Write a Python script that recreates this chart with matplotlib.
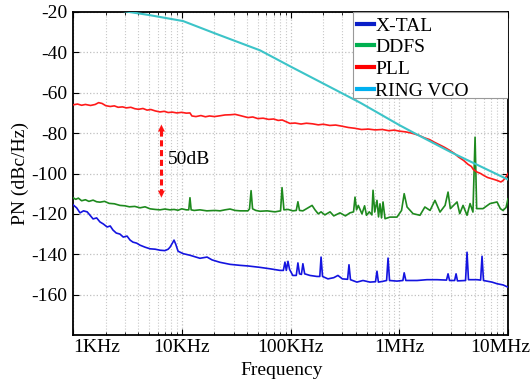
import matplotlib
matplotlib.use("Agg")
import matplotlib.pyplot as plt
from matplotlib.lines import Line2D
from matplotlib.patches import Rectangle
from matplotlib.ticker import FixedLocator, LogLocator, NullFormatter
import matplotlib.transforms as mtransforms

plt.rcParams['font.family'] = ['Liberation Serif', 'DejaVu Serif']
plt.rcParams['axes.unicode_minus'] = False

# ---------------- data ----------------
xtal_freq = [1.0e3, 1.08e3, 1.16e3, 1.25e3, 1.35e3, 1.45e3, 1.53e3, 1.65e3, 1.77e3, 1.9e3,
             2.06e3, 2.2e3, 2.33e3, 2.5e3, 2.7e3, 2.9e3, 3.14e3, 3.35e3, 3.56e3, 3.85e3,
             4.13e3, 4.6e3, 5.11e3, 5.7e3, 6.31e3, 7.0e3, 7.5e3, 7.8e3, 8.2e3, 8.49e3,
             8.8e3, 9.25e3, 1.03e4, 1.19e4, 1.47e4, 1.71e4, 1.9e4, 2.25e4, 2.78e4, 3.44e4,
             4.06e4, 5.25e4, 6.47e4, 8.0e4, 8.6e4, 8.89e4, 9.15e4, 9.48e4, 9.8e4, 1.05e5,
             1.13e5, 1.17e5, 1.21e5, 1.26e5, 1.30e5, 1.35e5, 1.51e5, 1.75e5, 1.86e5, 1.91e5,
             1.97e5, 2.21e5, 2.5e5, 2.73e5, 3.0e5, 3.35e5, 3.45e5, 3.56e5, 4.08e5, 4.64e5,
             5.38e5, 6.05e5, 6.24e5, 6.43e5, 7.1e5, 7.65e5, 7.89e5, 8.14e5, 9.53e5, 1.08e6,
             1.11e6, 1.15e6, 1.46e6, 1.80e6, 2.22e6, 2.72e6, 2.81e6, 2.9e6, 3.23e6, 3.33e6,
             3.43e6, 4.07e6, 4.20e6, 4.33e6, 5.19e6, 5.6e6, 5.77e6, 5.95e6, 7.13e6, 7.93e6,
             9.0e6, 1.0e7]
xtal_pn = [-115.5, -117.0, -119.5, -118.5, -119.0, -121.0, -122.5, -122.0, -124.0, -125.0,
           -126.5, -126.0, -128.0, -129.5, -130.0, -131.5, -131.0, -133.0, -134.0, -134.5,
           -135.5, -136.5, -137.3, -137.5, -138.0, -138.2, -137.5, -136.5, -134.5, -133.0,
           -135.0, -138.5, -139.7, -140.5, -142.0, -141.4, -142.8, -144.0, -145.0, -145.5,
           -145.8, -146.5, -147.2, -148.0, -148.0, -143.9, -148.0, -143.5, -147.5, -150.5,
           -150.5, -144.3, -149.7, -150.0, -144.7, -149.7, -150.5, -151.0, -151.0, -141.4,
           -151.0, -152.2, -151.6, -150.5, -152.2, -152.4, -145.2, -152.6, -153.8, -153.0,
           -153.8, -153.6, -148.4, -153.8, -153.4, -153.0, -141.9, -153.0, -153.3, -153.0,
           -149.2, -153.0, -153.0, -152.6, -152.6, -152.8, -149.7, -153.0, -153.0, -149.7,
           -153.2, -153.0, -139.0, -152.6, -152.6, -152.8, -141.0, -153.0, -153.8, -154.6,
           -155.2, -156.3]

ddfs_freq = [1.0e3, 1.06e3, 1.12e3, 1.2e3, 1.3e3, 1.4e3, 1.53e3, 1.65e3, 1.77e3, 1.95e3,
             2.15e3, 2.4e3, 2.7e3, 3.0e3, 3.3e3, 3.7e3, 4.13e3, 4.6e3, 5.11e3, 5.7e3,
             6.31e3, 7.0e3, 7.8e3, 8.5e3, 9.25e3, 1.0e4, 1.1e4, 1.16e4, 1.19e4, 1.22e4,
             1.3e4, 1.47e4, 1.7e4, 2.02e4, 2.25e4, 2.5e4, 2.78e4, 3.1e4, 3.44e4, 4.06e4,
             4.2e4, 4.34e4, 4.48e4, 4.8e4, 5.25e4, 6.08e4, 7.19e4, 8.1e4, 8.36e4, 8.7e4,
             9.5e4, 1.05e5, 1.13e5, 1.17e5, 1.21e5, 1.3e5, 1.45e5, 1.58e5, 1.68e5, 1.8e5,
             1.91e5, 2.07e5, 2.31e5, 2.5e5, 2.85e5, 3.2e5, 3.52e5, 3.8e5, 3.92e5, 4.05e5,
             4.2e5, 4.54e5, 4.8e5, 5.0e5, 5.3e5, 5.6e5, 5.74e5, 5.95e5, 6.24e5, 6.45e5,
             6.65e5, 6.87e5, 7.09e5, 7.4e5, 8.22e5, 9.53e5, 1.05e6, 1.11e6, 1.18e6, 1.34e6,
             1.55e6, 1.72e6, 1.92e6, 2.13e6, 2.37e6, 2.64e6, 2.81e6, 2.95e6, 3.40e6, 3.6e6,
             3.86e6, 4.20e6, 4.48e6, 4.76e6, 4.98e6, 5.15e6, 5.89e6, 6.83e6, 7.93e6, 8.5e6,
             9.0e6, 9.6e6, 1.0e7]
ddfs_pn = [-112.0, -112.8, -112.2, -113.5, -113.0, -113.8, -113.2, -114.0, -114.2, -113.8,
           -114.8, -115.0, -115.8, -116.0, -116.5, -116.3, -117.0, -116.5, -117.5, -117.8,
           -118.0, -117.6, -118.0, -117.8, -118.2, -117.5, -118.0, -118.0, -112.0, -118.0,
           -118.3, -118.0, -118.5, -118.3, -118.5, -118.0, -117.6, -118.3, -118.5, -118.5,
           -117.5, -108.5, -117.5, -118.3, -118.7, -118.5, -119.0, -118.5, -107.0, -118.0,
           -117.8, -118.5, -118.3, -114.0, -118.3, -118.5, -117.0, -115.8, -118.0, -120.0,
           -119.0, -120.5, -119.0, -121.0, -119.5, -121.0, -119.5, -119.0, -111.7, -118.0,
           -115.8, -120.0, -116.0, -120.7, -119.0, -120.5, -108.3, -119.1, -113.3, -121.5,
           -115.0, -122.0, -114.1, -122.4, -121.6, -121.6, -118.3, -110.0, -116.6, -119.9,
           -120.7, -116.6, -118.3, -113.3, -119.1, -115.8, -109.2, -117.4, -114.1, -119.9,
           -115.8, -120.7, -114.9, -119.1, -82.0, -117.4, -117.4, -114.9, -114.1, -117.4,
           -118.3, -116.8, -112.5]

pll_freq = [1.0e3, 1.1e3, 1.2e3, 1.3e3, 1.45e3, 1.6e3, 1.72e3, 1.85e3, 2.0e3, 2.2e3,
            2.4e3, 2.6e3, 2.85e3, 3.1e3, 3.4e3, 3.7e3, 4.0e3, 4.4e3, 4.8e3, 5.2e3,
            5.7e3, 6.3e3, 6.9e3, 7.5e3, 8.2e3, 9.0e3, 1.0e4, 1.1e4, 1.19e4, 1.24e4,
            1.35e4, 1.5e4, 1.65e4, 1.8e4, 2.0e4, 2.25e4, 2.5e4, 2.8e4, 3.1e4, 3.5e4,
            4.06e4, 4.5e4, 5.0e4, 5.6e4, 6.3e4, 7.0e4, 7.7e4, 8.4e4, 9.9e4, 1.1e5,
            1.25e5, 1.4e5, 1.6e5, 1.8e5, 2.0e5, 2.3e5, 2.6e5, 3.0e5, 3.4e5, 3.9e5,
            4.5e5, 5.2e5, 6.0e5, 7.0e5, 8.0e5, 9.0e5, 1.0e6, 1.15e6, 1.3e6, 1.5e6,
            1.7e6, 1.9e6, 2.1e6, 2.35e6, 2.6e6, 2.9e6, 3.2e6, 3.5e6, 3.9e6, 4.3e6,
            4.6e6, 4.8e6, 5.2e6, 5.6e6, 6.0e6, 6.5e6, 7.0e6, 7.5e6, 8.0e6, 8.6e6,
            9.0e6, 9.5e6, 1.0e7]
pll_pn = [-66.0, -65.6, -66.2, -65.8, -66.3, -65.8, -64.9, -65.3, -66.4, -66.8,
          -66.5, -67.2, -67.0, -67.5, -67.2, -67.9, -68.2, -67.8, -68.6, -68.3,
          -69.0, -69.5, -69.2, -69.8, -69.6, -70.0, -69.7, -70.1, -70.0, -71.5,
          -71.8, -71.3, -71.9, -71.5, -71.8, -71.4, -71.0, -70.9, -70.7, -71.4,
          -72.3, -72.0, -72.8, -72.6, -73.2, -73.0, -73.7, -73.5, -75.2, -75.0,
          -75.5, -75.1, -75.4, -75.9, -75.6, -76.2, -76.0, -76.6, -77.2, -77.6,
          -78.2, -78.0, -78.4, -78.2, -78.8, -78.5, -79.0, -79.4, -80.0, -81.0,
          -82.3, -83.2, -84.5, -85.8, -87.0, -88.5, -90.0, -91.8, -93.5, -95.5,
          -96.5, -98.0, -99.3, -100.0, -101.0, -102.0, -102.5, -103.0, -103.5, -104.2,
          -103.5, -102.0, -100.0]

ring_freq = [2.5e3, 5.0e3, 1.03e4, 2.0e4, 5.25e4, 1.0e5, 4.4e5, 1.0e6, 1.4e6, 3.0e6, 1.0e7]
ring_pn = [-19.0, -21.5, -24.5, -30.5, -39.0, -47.0, -65.0, -76.0, -80.2, -89.5, -103.0]

series_names = ['X-TAL', 'DDFS', 'PLL', 'RING VCO']
x_ticks = [1e3, 1e4, 1e5, 1e6, 1e7]
x_tick_labels = ['1KHz', '10KHz', '100KHz', '1MHz', '10MHz']
y_ticks = [-160, -140, -120, -100, -80, -60, -40, -20]
y_tick_labels = ['-160', '-140', '-120', '-100', '-80', '-60', '-40', '-20']

arrow_freq = 6.5e3
arrow_top = -74.4
arrow_bottom = -113.3
arrow_text = '50dB'
text_freq = 7.5e3
text_pn = -93.0

# ---------------- figure ----------------
fig = plt.figure(figsize=(5.31, 3.79), dpi=100)
ax = fig.add_axes([73/531, 1-335/379, 435/531, 323/379])

line_colors = ['#1414e0', '#1e8a1e', '#ff1a1a', '#3cc4c8']
legend_colors = ['#0a1ec8', '#00b050', '#ff0000', '#00b0f0']

ax.plot(xtal_freq, xtal_pn, color=line_colors[0], lw=1.2, zorder=3)
ax.plot(ddfs_freq, ddfs_pn, color=line_colors[1], lw=1.2, zorder=3)
ax.plot(pll_freq, pll_pn, color=line_colors[2], lw=1.2, zorder=4)
ax.plot(ring_freq, ring_pn, color=line_colors[3], lw=1.5, zorder=5)

ax.set_xscale('log')
ax.set_xlim(1e3, 1e7)
ax.set_ylim(-180, -20)
ax.xaxis.set_major_locator(FixedLocator(x_ticks))
ax.set_xticklabels(x_tick_labels)
ax.xaxis.set_minor_locator(LogLocator(base=10, subs=range(2, 10), numticks=20))
ax.xaxis.set_minor_formatter(NullFormatter())
ax.set_yticks(y_ticks)
ax.set_yticklabels(y_tick_labels)

ax.tick_params(which='both', direction='in', top=True, right=True, labelsize=14)
ax.tick_params(which='major', length=4, width=0.8)
ax.tick_params(which='minor', length=2.5, width=0.6)
ax.tick_params(axis='x', pad=3)
ax.tick_params(axis='y', pad=4)

ax.grid(True, which='major', axis='both', color='#c0c0c0', linestyle=':', linewidth=0.9)
ax.grid(True, which='minor', axis='x', color='#c8c8c8', linestyle=':', linewidth=0.8)
for s in ax.spines.values():
    s.set_linewidth(1.3)

# adjust first/last x tick labels like the reference
labels = ax.get_xticklabels()
labels[0].set_ha('left')
labels[-1].set_ha('right')
labels[-1].set_transform(labels[-1].get_transform() +
                         mtransforms.ScaledTranslation(0.22, 0, fig.dpi_scale_trans))

ax.set_xlabel('Frequency', fontsize=14, labelpad=1)
ax.xaxis.set_label_coords(0.48, -0.085)
ax.set_ylabel('PN (dBc/Hz)', fontsize=14, labelpad=2)

# 50 dB arrow
ax.plot([arrow_freq, arrow_freq], [arrow_top - 4, arrow_bottom + 4], color='#ff1010',
        lw=2.2, linestyle=(0, (2.0, 1.2)), zorder=6)
ax.annotate('', xy=(arrow_freq, arrow_top), xytext=(arrow_freq, arrow_top - 5),
            arrowprops=dict(arrowstyle='-|>', color='#ff1010', lw=0.1, mutation_scale=12),
            zorder=6)
ax.annotate('', xy=(arrow_freq, arrow_bottom), xytext=(arrow_freq, arrow_bottom + 5),
            arrowprops=dict(arrowstyle='-|>', color='#ff1010', lw=0.1, mutation_scale=12),
            zorder=6)
ax.text(text_freq, text_pn, arrow_text, fontsize=14, ha='left', va='center')

# legend box (frame drawn separately to match the wide reference box)
ax.add_patch(Rectangle((280/435, 1 - 86/323), 155/435, 86/323, transform=ax.transAxes,
                       facecolor='white', edgecolor='#999999', lw=0.8, zorder=9))
handles = [Line2D([0], [0], color=c, lw=3) for c in legend_colors]
leg = ax.legend(handles, series_names, loc='upper left', fontsize=14, frameon=False,
                bbox_to_anchor=(284/435, 1 - 5/323), borderaxespad=0.0, borderpad=0.0,
                handlelength=0.85, handletextpad=0.1, labelspacing=0.21)
leg.set_zorder(10)

fig.savefig('out.png', dpi=100)
